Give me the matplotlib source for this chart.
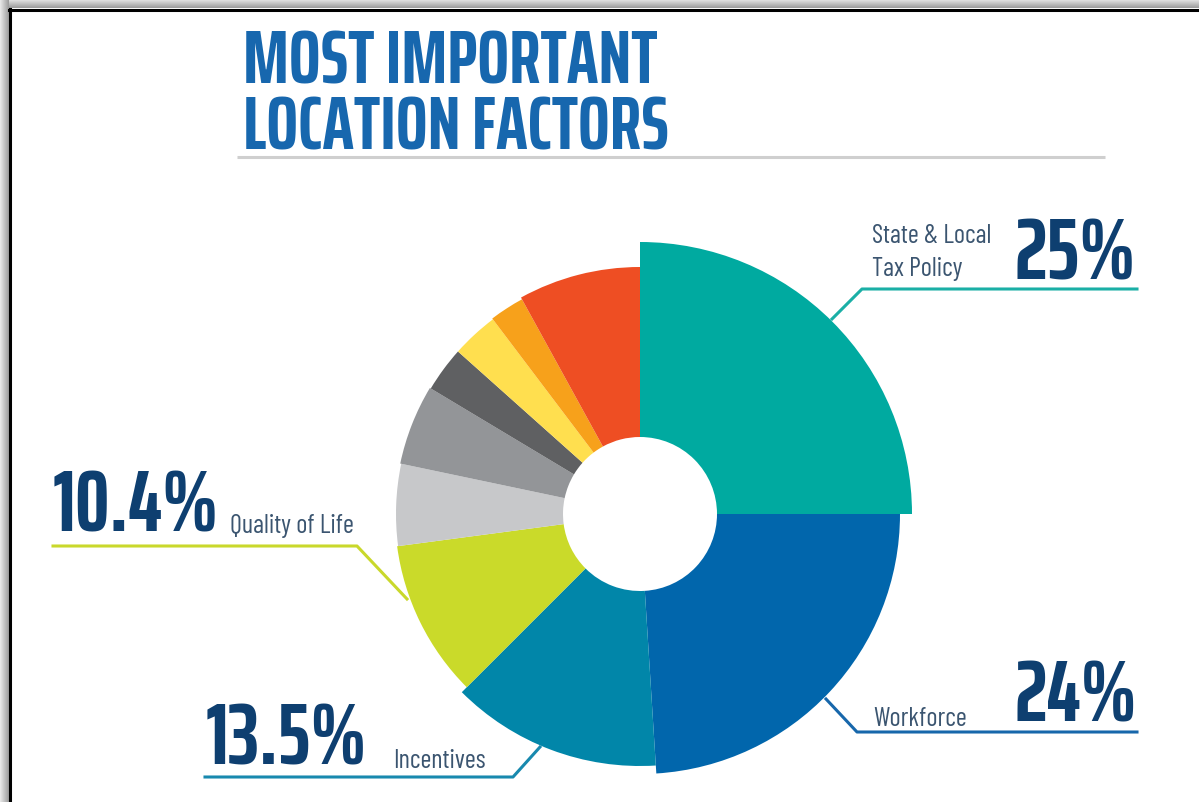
"""
Most important location factors - radial pie with a hole.
"""

import matplotlib
matplotlib.use("Agg")
import matplotlib.pyplot as plt
from matplotlib.patches import Wedge, Rectangle
import numpy as np

# Data
factors = ["State & Local Tax Policy", "Workforce", "Incentives", "Quality of Life",
           "Other 1", "Other 2", "Other 3", "Other 4", "Other 5", "Other 6"]
shares = [25.0, 24.0, 13.5, 10.4, 5.4, 5.3, 3.0, 3.1, 2.3, 8.0]
outer_radius = [272, 260, 252, 245, 244, 245, 244, 244, 245, 247]
colors = ["#00AAA0", "#0166AC", "#0186A9", "#CADA2A", "#C7C8CA",
          "#939598", "#5F6062", "#FFDF4F", "#F7A11B", "#EE4E23"]

callouts = ["25%", "24%", "13.5%", "10.4%"]
line_colors = ["#1AAFA6", "#1767AB", "#1889AE", "#C9D82B"]

BOLD = ["Saira ExtraCondensed", "Barlow Condensed", "DejaVu Sans"]
COND = ["Barlow Condensed", "Roboto Condensed", "DejaVu Sans"]
NAVY = "#0E3F70"
LABEL = "#3B5570"

W, H = 1199, 803
fig = plt.figure(figsize=(W / 100, H / 100), dpi=100)
ax = fig.add_axes([0, 0, 1, 1])
ax.set_xlim(0, W)
ax.set_ylim(H, 0)
ax.axis("off")

# frame with soft shadow (top + left)
for i in range(9):
    g = 0.90 - i * 0.035
    ax.add_patch(Rectangle((i, 0), 1, H, color=str(g), lw=0))
    ax.add_patch(Rectangle((i, i), W, 1, color=str(g), lw=0))
ax.plot([9.5, 9.5], [10, H], color="black", lw=2.2)
ax.plot([9, W], [10.5, 10.5], color="black", lw=2.2)

# Pie
cx, cy, hole = 640, 515, 77
start = -90
for share, r, c in zip(shares, outer_radius, colors):
    sweep = share * 3.6
    ax.add_patch(Wedge((cx, cy), r, start, start + sweep, width=r - hole,
                       facecolor=c, edgecolor="none"))
    start += sweep

# Title (baseline of the last line)
ax.text(243, 150, "MOST IMPORTANT\nLOCATION FACTORS", family=BOLD, weight="bold",
        fontsize=54, color="#1767AE", ha="left", va="baseline", linespacing=0.92)
ax.plot([237, 1105], [158, 158], color="#CFCFCF", lw=2.2, solid_capstyle="butt")

# Callout lines
ax.plot([832, 862, 1137], [320, 290, 290], color=line_colors[0], lw=2.2)
ax.plot([826, 857, 1137], [700, 733, 733], color=line_colors[1], lw=2.2)
ax.plot([540, 513, 205], [748, 778, 778], color=line_colors[2], lw=2.2)
ax.plot([407, 357, 53], [600, 547, 547], color=line_colors[3], lw=2.2)

# Big percentages
big = dict(family=BOLD, weight="bold", fontsize=62, color=NAVY, va="baseline")
ax.text(1136, 280, callouts[0], ha="right", **big)
ax.text(1137, 722, callouts[1], ha="right", **big)
ax.text(206, 765, callouts[2], ha="left", **big)
ax.text(53, 532, callouts[3], ha="left", **big)

# Labels
lab = dict(family=COND, weight="normal", fontsize=19, color=LABEL, va="baseline")
ax.text(872, 243, "State & Local", ha="left", **lab)
ax.text(872, 276, "Tax Policy", ha="left", **lab)
ax.text(873, 726, factors[1], ha="left", **lab)
ax.text(393, 768, factors[2], ha="left", **lab)
ax.text(230, 533, factors[3], ha="left", **lab)

fig.savefig("out.png", dpi=100)
plt.close(fig)
